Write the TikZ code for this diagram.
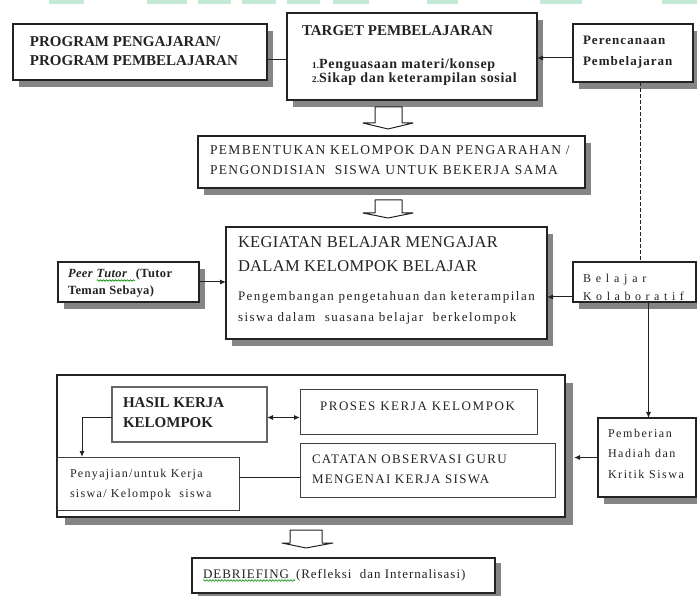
\documentclass[tikz,border=0pt]{standalone}
\usepackage{fontspec}
\setmainfont{Liberation Serif}
\usetikzlibrary{arrows.meta,shadows,decorations.pathmorphing}
\definecolor{topg}{RGB}{196,234,214}
\definecolor{ink}{RGB}{35,35,35}
\newcommand{\fs}[3]{\fontsize{#1}{#1}\selectfont\addfontfeature{LetterSpace=#2}#3}
\begin{document}
\begin{tikzpicture}[x=1pt,y=-1pt,
 box/.style={draw=ink,line width=1.1pt,fill=white,inner sep=0pt,outer sep=0pt,anchor=north west},
 shbox/.style={box,drop shadow={shadow xshift=6pt,shadow yshift=-7pt,fill=black!48,opacity=1}},
 inbox/.style={box,draw=black!75,line width=1pt},
 tx/.style={inner sep=0pt,outer sep=0pt,anchor=base west,text=ink},
 arr/.style={-{Latex[length=6pt,width=5pt]},line width=1pt,draw=ink},
 ln/.style={line width=1pt,draw=ink},
 blk/.style={draw=ink,line width=1pt,fill=white,line join=round},
 wave/.style={draw=green!55!black,line width=0.6pt,decorate,decoration={snake,amplitude=0.8pt,segment length=3pt}},
]
\useasboundingbox (0,0) rectangle (697,596);
% faint bars at the top edge
\foreach \a/\b in {49/84,147/187,198/231,242/276,287/320,333/369,427/458,540/582,662/697}
  \fill[topg] (\a,0) rectangle (\b,4);

% ---------- boxes ----------
\node[shbox,minimum width=254pt,minimum height=56pt] (prog) at (13,24) {};
\node[shbox,minimum width=250pt,minimum height=87pt] (target) at (287,13) {};
\node[shbox,minimum width=120pt,minimum height=58pt] (per) at (573,24) {};
\node[shbox,minimum width=387pt,minimum height=52pt] (pemb) at (198,136) {};
\node[shbox,minimum width=321pt,minimum height=112pt] (keg) at (226,227) {};
\node[shbox,minimum width=141pt,minimum height=40pt] (peer) at (58,262) {};
\node[shbox,minimum width=123pt,minimum height=40pt] (bel) at (573,262) {};
\node[shbox,minimum width=98pt,minimum height=79pt] (hadiah) at (598,418) {};
\node[box,drop shadow={shadow xshift=8pt,shadow yshift=-8pt,fill=black!48,opacity=1},minimum width=508pt,minimum height=142pt] (big) at (57,375) {};
\node[inbox,draw=black!60,line width=1.6pt,minimum width=155pt,minimum height=55pt] (hasil) at (112,387) {};
\node[inbox,minimum width=237pt,minimum height=44pt] (proses) at (300,390) {};
\node[inbox,minimum width=255pt,minimum height=54pt] (catatan) at (300,443) {};
\node[inbox,minimum width=182pt,minimum height=53pt] (saji) at (57,457) {};
\node[box,drop shadow={shadow xshift=6pt,shadow yshift=-5pt,fill=black!48,opacity=1},minimum width=303pt,minimum height=35pt] (debr) at (192,558) {};

% ---------- texts ----------
\node[tx] (progA) at (30,46.5) {\fs{15}{0}{\bfseries PROGRAM PENGAJARAN/}};
\node[tx] (progB) at (30,66) {\fs{15}{0}{\bfseries PROGRAM PEMBELAJARAN}};

\node[tx] (tgA) at (302,36) {\fs{15}{0}{\bfseries TARGET PEMBELAJARAN}};
\node[tx] (tgB) at (312,69) {\fs{14}{5}{\bfseries{\fontsize{9}{9}\selectfont 1.}Penguasaan materi/konsep}};
\node[tx] (tgC) at (312,83) {\fs{14}{5}{\bfseries{\fontsize{9}{9}\selectfont 2.}Sikap dan keterampilan sosial}};

\node[tx] (perA) at (583,45) {\fs{13}{8}{\bfseries Perencanaan}};
\node[tx] (perB) at (583,66) {\fs{13}{8}{\bfseries Pembelajaran}};

\node[tx] (pembA) at (210,155) {\fs{13.5}{10}{PEMBENTUKAN KELOMPOK DAN PENGARAHAN /}};
\node[tx] (pembB) at (210,175) {\fs{13.5}{10}{PENGONDISIAN\ \ SISWA UNTUK BEKERJA SAMA}};

\node[tx] (kegA) at (238,248) {\fs{16.5}{2}{KEGIATAN BELAJAR MENGAJAR}};
\node[tx] (kegB) at (238,272) {\fs{16.5}{2}{DALAM KELOMPOK BELAJAR}};
\node[tx] (kegC) at (238,301) {\fs{13}{11.5}{Pengembangan pengetahuan dan keterampilan}};
\node[tx] (kegD) at (238,322) {\fs{13}{11.5}{siswa dalam\ \ suasana belajar\ \ berkelompok}};

\node[tx] (peerA) at (68,278) {\fs{12.5}{3}{\bfseries\itshape Peer}};
\node[tx] (peerW) at ([xshift=4pt]peerA.base east) {\fs{12.5}{3}{\bfseries\itshape Tutor}};
\node[tx] (peerC) at ([xshift=9pt]peerW.base east) {\fs{12.5}{3}{\bfseries (Tutor}};
\draw[wave] ([yshift=-2.5pt]peerW.base west) -- ([yshift=-2.5pt,xshift=8pt]peerW.base east);
\node[tx] (peerB) at (68,295) {\fs{12.5}{3}{\bfseries Teman Sebaya)}};

\node[tx] (belA) at (583,283) {\fs{12}{40}{Belajar}};
\node[tx] (belB) at (583,301) {\fs{12}{38}{Kolaboratif}};

\node[tx] (hadA) at (608,438) {\fs{12}{13}{Pemberian}};
\node[tx] (hadB) at (608,457) {\fs{12}{13}{Hadiah dan}};
\node[tx] (hadC) at (608,478) {\fs{12}{13}{Kritik Siswa}};

\node[tx] (hasA) at (123,408) {\fs{15}{0}{\bfseries HASIL KERJA}};
\node[tx] (hasB) at (123,428) {\fs{15}{0}{\bfseries KELOMPOK}};

\node[tx] (prA) at (320,410) {\fs{13}{12}{PROSES KERJA KELOMPOK}};

\node[tx] (catA) at (312,463) {\fs{13}{10}{CATATAN OBSERVASI GURU}};
\node[tx] (catB) at (312,483) {\fs{13}{10}{MENGENAI KERJA SISWA}};

\node[tx] (sajA) at (70,477) {\fs{12}{11}{Penyajian/untuk Kerja}};
\node[tx] (sajB) at (70,497) {\fs{12}{11}{siswa/ Kelompok\ \ siswa}};

\node[tx] (debW) at (203,578) {\fs{13}{7.5}{DEBRIEFING}};
\node[tx] (debA) at ([xshift=7pt]debW.base east) {\fs{13}{7.5}{(Refleksi\ \ dan Internalisasi)}};
\draw[wave] ([yshift=-2.5pt]debW.base west) -- ([yshift=-2.5pt,xshift=6pt]debW.base east);

% ---------- block arrows ----------
\draw[blk] (375,107) -- (402,107) -- (402,123) -- (413,123) -- (388,129) -- (363,123) -- (375,123) -- cycle;
\draw[blk] (375,200) -- (402,200) -- (402,213) -- (413,213) -- (388,218) -- (363,213) -- (375,213) -- cycle;
\draw[blk] (290,530) -- (322,530) -- (322,543) -- (333,543) -- (306,548) -- (282,543) -- (290,543) -- cycle;

% ---------- connectors ----------
\draw[ln] ([yshift=-8pt]prog.east) -- ([yshift=-8pt]prog.east -| target.west);
\draw[arr] ([yshift=-5pt]per.west) -- ([yshift=-5pt]per.west -| target.east);
\draw[ln,dash pattern=on 4pt off 2pt] ([xshift=7pt]per.south) -- ([xshift=7pt]per.south |- bel.north);
\draw[arr] (peer.east) -- (peer.east -| keg.west);
\draw[arr] ([yshift=-15pt]bel.west) -- ([yshift=-15pt]bel.west -| keg.east);
\draw[arr] ([xshift=14pt]bel.south) -- ([xshift=14pt]bel.south |- hadiah.north);
\draw[arr] (hadiah.west) -- ([xshift=9pt]hadiah.west -| big.east);
\draw[{Latex[length=6pt,width=5pt]}-{Latex[length=6pt,width=5pt]},line width=1pt,draw=ink] ([yshift=-3pt]hasil.east) -- ([yshift=-3pt]hasil.east -| proses.west);
\draw[arr] ([yshift=-3pt]hasil.west) -| ([xshift=25pt]saji.north west);
\draw[ln] ([yshift=6.5pt]saji.east) -- ([yshift=6.5pt]saji.east -| catatan.west);
\end{tikzpicture}
\end{document}
